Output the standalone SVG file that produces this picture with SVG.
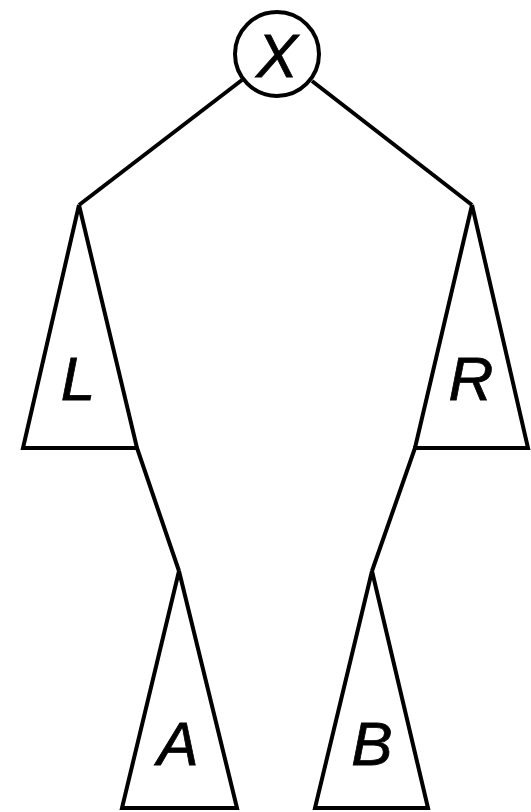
<svg xmlns="http://www.w3.org/2000/svg" width="531" height="812" viewBox="0 0 531 812">
<style>
.s{fill:none;stroke:#000;stroke-width:4;stroke-linejoin:miter;stroke-linecap:butt}
.t{font-family:"Liberation Sans",Arial,sans-serif;font-style:italic;font-size:62px;fill:#000;stroke:#000;stroke-width:0.8;text-anchor:middle}
</style>
<rect width="531" height="812" fill="#fff"/>
<g id="connectors">
<line class="s" x1="242" y1="80" x2="79" y2="205"/>
<line class="s" x1="312" y1="81" x2="472" y2="205"/>
<polyline class="s" points="79,205 137,448 179,571"/>
<polyline class="s" points="472,205 415,448 372,571"/>
</g>
<g id="node-X">
<circle class="s" cx="277" cy="54" r="42"/>
<text class="t" x="277" y="77">X</text>
</g>
<g id="node-L">
<polyline class="s" points="137,448 23,448 79,205"/>
<text class="t" x="78" y="400">L</text>
</g>
<g id="node-R">
<polyline class="s" points="413,448 528,448 472,205"/>
<text class="t" x="471" y="400">R</text>
</g>
<g id="node-A">
<polygon class="s" points="179,571 122,808 237,808"/>
<text class="t" x="178" y="765">A</text>
</g>
<g id="node-B">
<polygon class="s" points="372,571 315,808 428,808"/>
<text class="t" x="372" y="765">B</text>
</g>
</svg>
